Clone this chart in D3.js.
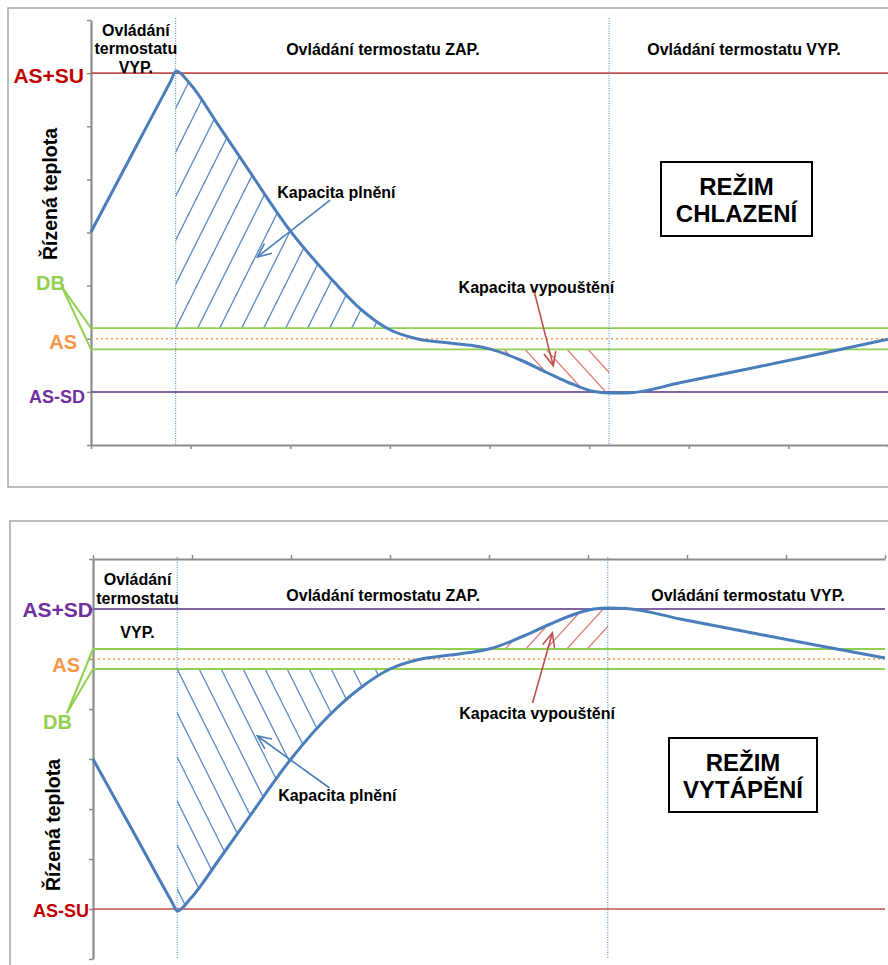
<!DOCTYPE html>
<html>
<head>
<meta charset="utf-8">
<script src="https://cdn.jsdelivr.net/npm/d3@7"></script>
<style>
  body { margin: 0; background: #fff; }
  text { font-family: "Liberation Sans", Arial, sans-serif; font-weight: bold; }
</style>
</head>
<body>
<svg id="chart" width="888" height="965"></svg>
<script>
// ---------- values (both axes run 0..8) ----------
// cooling mode (top panel)
const coolX    = [0, 0.45, 0.80, 0.853, 0.994, 1.265, 1.566, 2.0, 2.4, 2.67, 3.0, 3.27, 3.6, 3.84, 4.0, 4.31, 4.58, 4.84, 5.04, 5.2, 5.38, 5.91, 6.59, 7.25, 8.0];
const coolTemp = [4.01, 5.61, 6.85, 7.04, 6.80, 6.06, 5.22, 4.03, 3.15, 2.62, 2.17, 2.0, 1.92, 1.87, 1.81, 1.6, 1.36, 1.14, 1.01, 0.98, 0.98, 1.17, 1.43, 1.69, 1.99];
const coolLevels = [7, 2.2, 2.0, 1.8, 1.0];          // AS+SU, DB top, AS, DB bottom, AS-SD
const coolLabels = ["AS+SU", "DB", "AS", "AS-SD"];
const coolTitle  = ["REŽIM", "CHLAZENÍ"];

// heating mode (bottom panel)
const heatX    = [0, 0.45, 0.80, 0.85, 0.99, 1.27, 1.57, 2.0, 2.39, 2.70, 3.0, 3.27, 3.61, 3.84, 4.02, 4.35, 4.62, 4.90, 5.06, 5.21, 5.39, 5.93, 6.61, 7.27, 8.0];
const heatTemp = [4.0, 2.39, 1.13, 0.96, 1.22, 1.98, 2.82, 4.0, 4.88, 5.42, 5.8, 5.98, 6.08, 6.14, 6.21, 6.46, 6.7, 6.92, 7.0, 7.02, 7.01, 6.8, 6.54, 6.29, 6.02];
const heatLevels = [7, 6.2, 6.0, 5.8, 1.0];          // AS+SD, DB top, AS, DB bottom, AS-SU
const heatLabels = ["AS+SD", "AS", "DB", "AS-SU"];
const heatTitle  = ["REŽIM", "VYTÁPĚNÍ"];

// thermostat switching moments and phase captions
const switchX = [0.85, 5.2];
const phaseOff = ["Ovládání", "termostatu", "VYP."];
const phaseOn  = "Ovládání termostatu ZAP.";
const phaseOff2 = "Ovládání termostatu VYP.";
const fillText  = "Kapacita plnění";
const drainText = "Kapacita vypouštění";
const axisTitle = "Řízená teplota";

// ---------- drawing ----------
const svg = d3.select("#chart");
const defs = svg.append("defs");
const C = {
  curve: "#4a7ebb", hatchBlue: "#5b8ac6", hatchRed: "#e07a78",
  red: "#c0504d", purple: "#8064a2", green: "#92d050", orange: "#f79646",
  axis: "#8c8c8c", border: "#a6a6a6"
};

function txt(g, s, px, py, size, color, anchor) {
  return g.append("text").attr("x", px).attr("y", py).attr("dy", "0.35em")
    .attr("text-anchor", anchor || "middle").attr("font-size", size)
    .attr("fill", color || "#000").text(s);
}

function arrow(g, x1, y1, x2, y2, color) {
  g.append("line").attr("x1", x1).attr("y1", y1).attr("x2", x2).attr("y2", y2)
    .attr("stroke", color).attr("stroke-width", 1.6);
  const a = Math.atan2(y1 - y2, x1 - x2), len = 15, spread = 0.42;
  const p = d3.path();
  p.moveTo(x2 + len * Math.cos(a - spread), y2 + len * Math.sin(a - spread));
  p.lineTo(x2, y2);
  p.lineTo(x2 + len * Math.cos(a + spread), y2 + len * Math.sin(a + spread));
  g.append("path").attr("d", p.toString()).attr("fill", "none")
    .attr("stroke", color).attr("stroke-width", 1.6);
}

// parallel hatch lines inside (rect ∩ area between curve and a base level)
function hatch(g, id, x, y, pts, base, rx0, rx1, ry0, ry1, anchorX, spacing, slope, down, color) {
  const area = d3.area().x(d => x(d[0])).y0(y(base)).y1(d => y(d[1])).curve(d3.curveMonotoneX);
  defs.append("clipPath").attr("id", id + "-r").append("rect")
    .attr("x", rx0).attr("y", ry0).attr("width", rx1 - rx0).attr("height", ry1 - ry0);
  defs.append("clipPath").attr("id", id + "-a").append("path").attr("d", area(pts));
  const inner = g.append("g").attr("clip-path", `url(#${id}-r)`)
    .append("g").attr("clip-path", `url(#${id}-a)`);
  const yb = y(base), L = 400, v = down ? 1 : -1;
  d3.range(-30, 30).forEach(k => {
    const bx = anchorX + k * spacing;
    inner.append("line")
      .attr("x1", bx - L / slope).attr("y1", yb - v * L)
      .attr("x2", bx + L / slope).attr("y2", yb + v * L)
      .attr("stroke", color).attr("stroke-width", 1.3);
  });
}

function drawPanel(cfg) {
  const x = d3.scaleLinear().domain([0, 8]).range(cfg.xRange);
  const y = d3.scaleLinear().domain([0, 8]).range(cfg.yRange);
  const pts = d3.zip(cfg.xs, cfg.ts);
  const g = svg.append("g");
  const [lim, bandHi, setp, bandLo, stop] = cfg.levels;

  g.append("rect").attr("x", cfg.border[0]).attr("y", cfg.border[1])
    .attr("width", 1000).attr("height", cfg.border[2])
    .attr("fill", "none").attr("stroke", C.border).attr("stroke-width", 1.5);

  // hatched capacities
  const sx = switchX.map(x);
  if (cfg.heat) {
    hatch(g, "hb", x, y, pts, bandLo, sx[0], x(4), y(bandLo), y(0), sx[0], 22, 2.0, true, C.hatchBlue);
    hatch(g, "hr", x, y, pts, bandHi, x(3), sx[1], y(8), y(bandHi), sx[1], 20.5, 1.1, false, C.hatchRed);
  } else {
    hatch(g, "cb", x, y, pts, bandHi, sx[0], x(4), y(8), y(bandHi), sx[0], 22, 2.0, false, C.hatchBlue);
    hatch(g, "cr", x, y, pts, bandLo, x(3), sx[1], y(bandLo), y(0), sx[1], 21, 1.1, true, C.hatchRed);
  }

  // axes (tick marks only)
  const xAxis = (cfg.heat ? d3.axisTop(x) : d3.axisBottom(x)).ticks(8).tickSize(4).tickSizeOuter(0).tickFormat("");
  const yAxis = d3.axisLeft(y).ticks(8).tickSize(4).tickSizeOuter(0).tickFormat("");
  const ax = g.append("g").attr("transform", `translate(0,${cfg.heat ? y(8) : y(0)})`).call(xAxis);
  const ay = g.append("g").attr("transform", `translate(${x(0)},0)`).call(yAxis);
  [ax, ay].forEach(a => {
    a.select(".domain").attr("stroke", C.axis).attr("stroke-width", 2.2);
    a.selectAll(".tick line").attr("stroke", C.axis).attr("stroke-width", 1.5);
  });

  // level lines
  const hline = (v, color, w, dash) => g.append("line")
    .attr("x1", x(0)).attr("x2", x(8)).attr("y1", y(v)).attr("y2", y(v))
    .attr("stroke", color).attr("stroke-width", w).attr("stroke-dasharray", dash || null);
  hline(lim, cfg.heat ? C.purple : C.red, cfg.heat ? 2 : 1.6);
  hline(stop, cfg.heat ? C.red : C.purple, cfg.heat ? 1.6 : 2);
  hline(bandHi, C.green, 1.8);
  hline(bandLo, C.green, 1.8);
  hline(setp, C.orange, 1.5, "2,3");

  // switching moments
  switchX.forEach(v => g.append("line").attr("x1", x(v)).attr("x2", x(v))
    .attr("y1", y(8) - 2).attr("y2", y(0))
    .attr("stroke", C.curve).attr("stroke-width", 1).attr("stroke-dasharray", "1,1.5"));

  // controlled temperature
  g.append("path").datum(pts)
    .attr("d", d3.line().x(d => x(d[0])).y(d => y(d[1])).curve(d3.curveMonotoneX))
    .attr("fill", "none").attr("stroke", C.curve).attr("stroke-width", 3);

  // level labels + DB connectors
  cfg.labels.forEach((s, i) => {
    const L = cfg.labelPos[i];
    txt(g, s, L[0], L[1], L[2], L[3], "end");
  });
  const db = cfg.dbFrom;
  [bandHi, bandLo].forEach(v => g.append("line")
    .attr("x1", db[0]).attr("y1", db[1]).attr("x2", x(0)).attr("y2", y(v))
    .attr("stroke", C.green).attr("stroke-width", 2));

  // axis title
  g.append("text").attr("transform", `translate(${cfg.titlePos[0]},${cfg.titlePos[1]}) rotate(-90)`)
    .attr("dy", "0.35em").attr("text-anchor", "middle").attr("font-size", 19.5).text(axisTitle);

  // phase captions
  cfg.offLines.forEach((s, i) => txt(g, s, x(0.45), cfg.offY[i], 16));
  txt(g, phaseOn, x(2.93), cfg.capY, 16);
  txt(g, phaseOff2, cfg.capX3, cfg.capY, 16);

  // mode box
  const b = cfg.box;
  g.append("rect").attr("x", b[0]).attr("y", b[1]).attr("width", b[2]).attr("height", b[3])
    .attr("fill", "#fff").attr("stroke", "#000").attr("stroke-width", 2);
  cfg.title.forEach((s, i) => txt(g, s, b[0] + b[2] / 2, b[1] + 25 + i * 27, 24));

  // capacity annotations
  const A = cfg.ann;
  txt(g, fillText, x(A.fillText[0]), y(A.fillText[1]), 16, "#000", "start");
  arrow(g, x(A.fillArrow[0]), y(A.fillArrow[1]), x(A.fillArrow[2]), y(A.fillArrow[3]), C.curve);
  txt(g, drainText, x(A.drainText[0]), y(A.drainText[1]), 16, "#000", "start");
  arrow(g, x(A.drainArrow[0]), y(A.drainArrow[1]), x(A.drainArrow[2]), y(A.drainArrow[3]), C.red);
}

drawPanel({
  heat: false, xs: coolX, ts: coolTemp, levels: coolLevels, labels: coolLabels, title: coolTitle,
  xRange: [91, 888], yRange: [445, 20], border: [8, 8, 479],
  labelPos: [[84, 76, 21, "#c00000"], [65, 283, 20, C.green], [77, 342, 20, C.orange], [85, 397, 18, "#7030a0"]],
  dbFrom: [62, 287], titlePos: [50, 194],
  offLines: phaseOff, offY: [30, 48, 67], capY: 49, capX3: 744,
  box: [661, 162, 151, 74],
  ann: { fillText: [1.87, 4.75], fillArrow: [2.40, 4.61, 1.67, 3.54],
         drainText: [3.69, 2.96], drainArrow: [4.45, 2.88, 4.64, 1.49] }
});

drawPanel({
  heat: true, xs: heatX, ts: heatTemp, levels: heatLevels, labels: heatLabels, title: heatTitle,
  xRange: [93, 885], yRange: [959, 559], border: [10, 521, 600],
  labelPos: [[93, 610, 21, "#7030a0"], [80, 665, 20, C.orange], [72, 722, 20, C.green], [89, 911, 18, "#c00000"]],
  dbFrom: [67, 713], titlePos: [53, 825],
  offLines: phaseOff, offY: [579, 598, 632], capY: 595, capX3: 748,
  box: [669, 738, 148, 74],
  ann: { fillText: [1.87, 3.28], fillArrow: [2.39, 3.42, 1.66, 4.46],
         drainText: [3.70, 4.92], drainArrow: [4.44, 5.12, 4.64, 6.52] }
});
</script>
</body>
</html>
